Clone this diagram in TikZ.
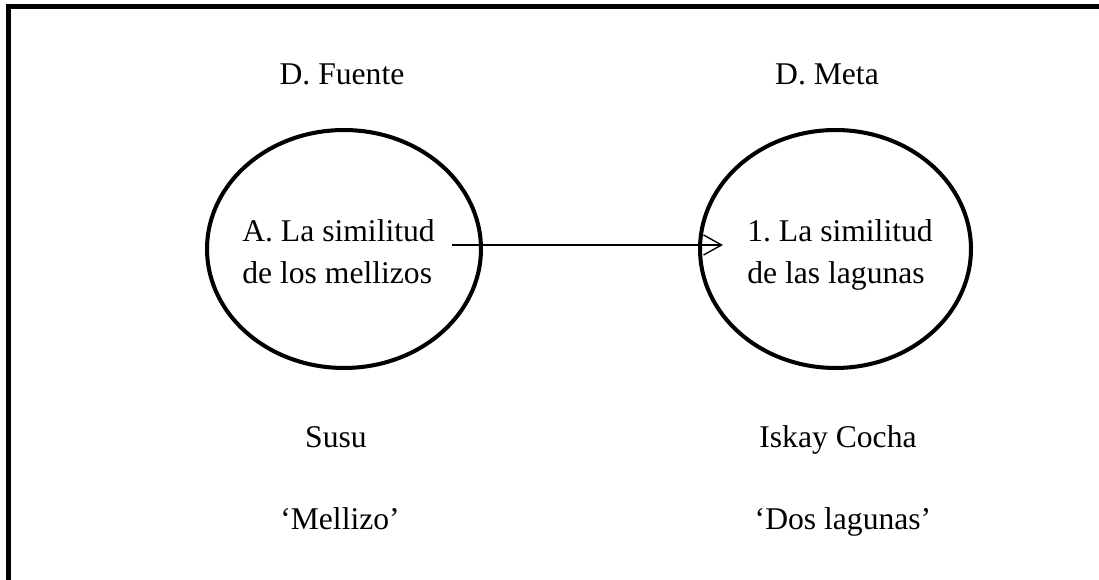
\documentclass[tikz,border=0pt]{standalone}
\usepackage{fontspec}
\setmainfont{Liberation Serif}
\usetikzlibrary{arrows.meta}
\usetikzlibrary{shapes}
\frenchspacing

\begin{document}
\begin{tikzpicture}[x=0.02cm, y=-0.02cm,
        domain_style/.style={ellipse,draw=black,line width=2.3pt,minimum height=4.76cm,inner sep=0pt},
        label_style/.style={anchor=base,inner sep=0pt,font=\fontsize{18}{24.4}\selectfont},
        inner_style/.style={anchor=base west,align=left,inner sep=0pt,font=\fontsize{18}{24.4}\selectfont},
        edge_style/.style={draw=black,line width=0.8pt,-{Straight Barb[length=0.36cm,width=0.4cm]}},
        frame_style/.style={draw=black,line width=2.8pt}]

        \useasboundingbox (0,0) rectangle (1099,580);
        \draw [frame_style] (8.5,600) -- (8.5,6.5) -- (1120,6.5);

        \node [label_style](t1) at (342,85) {D. Fuente};
        \node [label_style](t2) at (827,85) {D. Meta};

        \node [domain_style,minimum width=5.48cm](fuente) at (344,249) {};
        \node [domain_style,minimum width=5.42cm](meta) at (835.5,249) {};
        \node [inner_style](c1) at (242,284) {A. La similitud\\de los mellizos};
        \node [inner_style](c2) at (747,284) {1. La similitud\\de las lagunas};

        \coordinate (p1) at (452,245);
        \coordinate (p2) at (723,245);
        \draw [edge_style] (p1) -- (p2);

        \node [label_style](s1) at (336,448) {Susu};
        \node [label_style](s2) at (838,448) {Iskay Cocha};
        \node [label_style](g1) at (340,530) {‘Mellizo’};
        \node [label_style](g2) at (843,530) {‘Dos lagunas’};
\end{tikzpicture}
\end{document}
